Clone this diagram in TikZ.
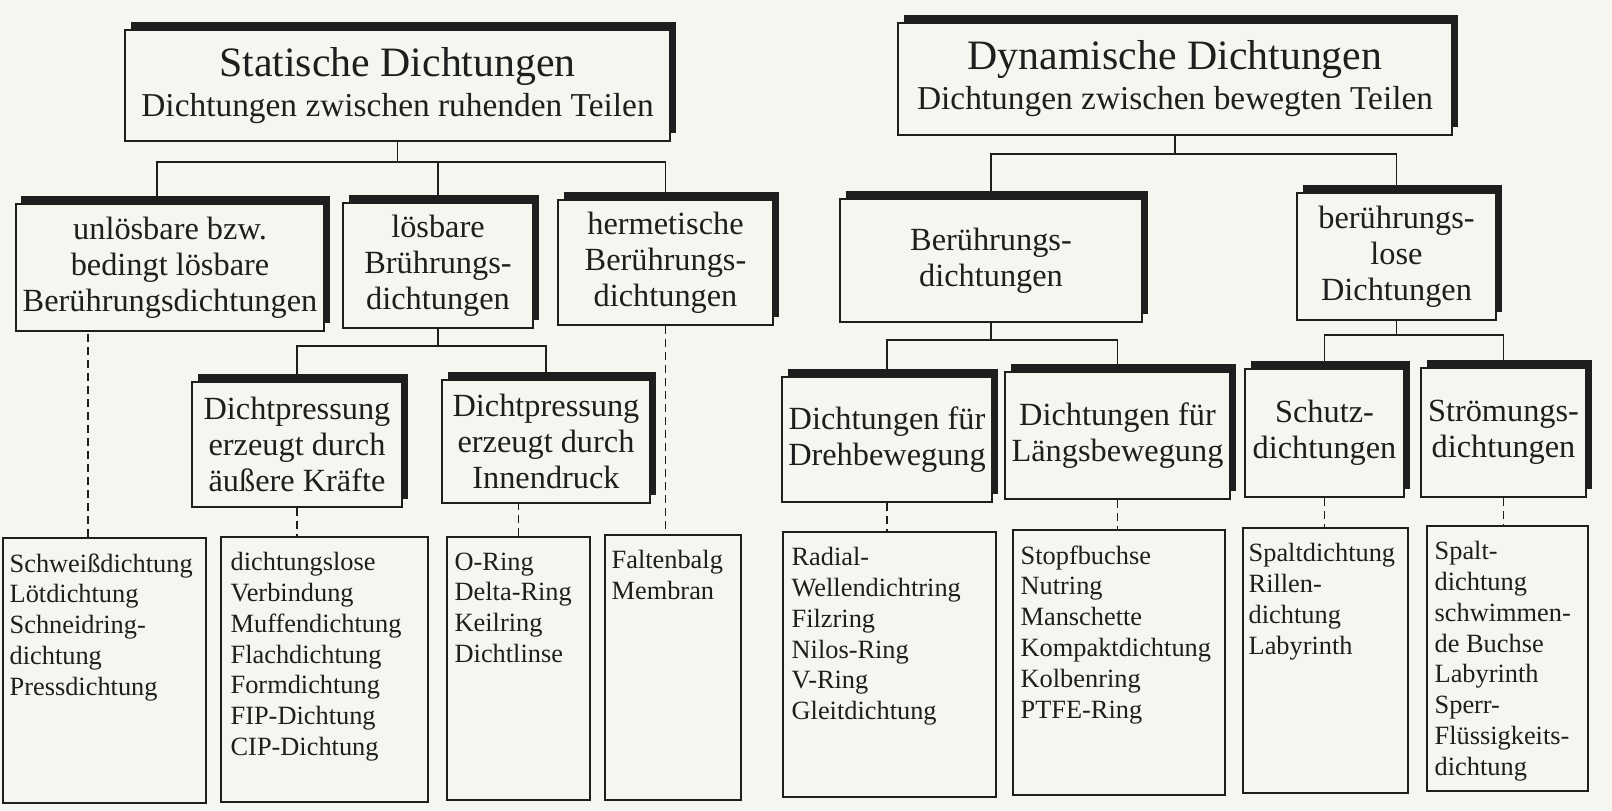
\documentclass[tikz,border=0pt]{standalone}
\usepackage{fontspec}
\setmainfont{Liberation Serif}
\usepackage{xcolor}
\usetikzlibrary{positioning, shadows}
\definecolor{paper}{RGB}{247,245,239}
\definecolor{ink}{RGB}{30,30,30}

\begin{document}
\begin{tikzpicture}[
    box/.style={draw=ink, line width=0.6pt, fill=paper, inner sep=0pt, align=center, text=ink,
        general shadow={fill=ink, shadow xshift=0.55mm, shadow yshift=0.85mm}},
    topbox/.style={box, font=\fontsize{9.5}{11.4}\selectfont},
    midbox/.style={box, font=\fontsize{9.2}{10.2}\selectfont},
    leaf/.style={draw=ink, line width=0.6pt, fill=paper, inner sep=0pt},
    leaftext/.style={inner sep=0pt, align=left, text=ink, font=\fontsize{7.5}{8.75}\selectfont},
    link/.style={draw=ink, line width=0.45pt},
    dashlink/.style={draw=ink, line width=0.45pt, dash pattern=on 0.8mm off 0.5mm}]
        \fill[paper] (0,0) rectangle (16.12,-8.10);
        \useasboundingbox (0,0) rectangle (16.12,-8.10);

        % top level
        \node[topbox, minimum width=5.45cm, minimum height=1.11cm] (1) at (3.975,-0.855)
            {{\fontsize{11.9}{11.4}\selectfont Statische Dichtungen}\\Dichtungen zwischen ruhenden Teilen};
        \node[topbox, minimum width=5.54cm, minimum height=1.12cm] (2) at (11.75,-0.79)
            {{\fontsize{11.9}{11.4}\selectfont Dynamische Dichtungen}\\Dichtungen zwischen bewegten Teilen};

        % second level
        \node[midbox, minimum width=3.08cm, minimum height=1.27cm] (11) at (1.70,-2.675)
            {unlösbare bzw.\\bedingt lösbare\\Berührungsdichtungen};
        \node[midbox, minimum width=1.90cm, minimum height=1.25cm] (12) at (4.38,-2.655)
            {lösbare\\Brührungs-\\dichtungen};
        \node[midbox, minimum width=2.15cm, minimum height=1.25cm] (13) at (6.655,-2.625)
            {hermetische\\Berührungs-\\dichtungen};
        \node[midbox, minimum width=3.02cm, minimum height=1.23cm] (21) at (9.91,-2.605)
            {Berührungs-\\dichtungen};
        \node[midbox, minimum width=1.99cm, minimum height=1.27cm] (22) at (13.965,-2.565)
            {berührungs-\\lose\\Dichtungen};

        % third level
        \node[midbox, minimum width=2.10cm, minimum height=1.25cm] (121) at (2.97,-4.445)
            {Dichtpressung\\erzeugt durch\\äußere Kräfte};
        \node[midbox, minimum width=2.08cm, minimum height=1.23cm] (122) at (5.46,-4.415)
            {Dichtpressung\\erzeugt durch\\Innendruck};
        \node[midbox, minimum width=2.10cm, minimum height=1.25cm] (211) at (8.87,-4.395)
            {Dichtungen für\\Drehbewegung};
        \node[midbox, minimum width=2.25cm, minimum height=1.27cm] (212) at (11.175,-4.355)
            {Dichtungen für\\Längsbewegung};
        \node[midbox, minimum width=1.59cm, minimum height=1.28cm] (221) at (13.245,-4.33)
            {Schutz-\\dichtungen};
        \node[midbox, minimum width=1.65cm, minimum height=1.29cm] (222) at (15.035,-4.325)
            {Strömungs-\\dichtungen};

        % lists
        \node[leaf, minimum width=2.03cm, minimum height=2.65cm] (11l) at (1.045,-6.705) {};
        \node[leaf, minimum width=2.07cm, minimum height=2.65cm] (121l) at (3.245,-6.695) {};
        \node[leaf, minimum width=1.43cm, minimum height=2.63cm] (122l) at (5.185,-6.685) {};
        \node[leaf, minimum width=1.36cm, minimum height=2.65cm] (13l) at (6.73,-6.675) {};
        \node[leaf, minimum width=2.13cm, minimum height=2.65cm] (211l) at (8.895,-6.645) {};
        \node[leaf, minimum width=2.12cm, minimum height=2.65cm] (212l) at (11.19,-6.625) {};
        \node[leaf, minimum width=1.65cm, minimum height=2.65cm] (221l) at (13.255,-6.605) {};
        \node[leaf, minimum width=1.61cm, minimum height=2.65cm] (222l) at (15.075,-6.585) {};

        \node[leaftext, below right=1.6mm and 0.7mm of 11l.north west] (11t)
            {Schweißdichtung\\Lötdichtung\\Schneidring-\\dichtung\\Pressdichtung};
        \node[leaftext, below right=1.6mm and 1.0mm of 121l.north west] (121t)
            {dichtungslose\\Verbindung\\Muffendichtung\\Flachdichtung\\Formdichtung\\FIP-Dichtung\\CIP-Dichtung};
        \node[leaftext, below right=1.6mm and 0.8mm of 122l.north west] (122t)
            {O-Ring\\Delta-Ring\\Keilring\\Dichtlinse};
        \node[leaftext, below right=1.6mm and 0.7mm of 13l.north west] (13t)
            {Faltenbalg\\Membran};
        \node[leaftext, below right=1.6mm and 0.9mm of 211l.north west] (211t)
            {Radial-\\Wellendichtring\\Filzring\\Nilos-Ring\\V-Ring\\Gleitdichtung};
        \node[leaftext, below right=1.6mm and 0.8mm of 212l.north west] (212t)
            {Stopfbuchse\\Nutring\\Manschette\\Kompaktdichtung\\Kolbenring\\PTFE-Ring};
        \node[leaftext, below right=1.6mm and 0.6mm of 221l.north west] (221t)
            {Spaltdichtung\\Rillen-\\dichtung\\Labyrinth};
        \node[leaftext, below right=1.6mm and 0.8mm of 222l.north west] (222t)
            {Spalt-\\dichtung\\schwimmen-\\de Buchse\\Labyrinth\\Sperr-\\Flüssigkeits-\\dichtung};

        % tree lines
        \draw[link] (1.south) -- ++(0,-0.20) -| ([xshift=-1.3mm]11.north);
        \draw[link] (1.south) -- ++(0,-0.20) -| (12.north);
        \draw[link] (1.south) -- ++(0,-0.20) -| (13.north);

        \draw[link] (2.south) -- ++(0,-0.18) -| (21.north);
        \draw[link] (2.south) -- ++(0,-0.18) -| (22.north);

        \draw[link] (12.south) -- ++(0,-0.17) -| (121.north);
        \draw[link] (12.south) -- ++(0,-0.17) -| (122.north);

        \draw[link] (21.south) -- ++(0,-0.17) -| (211.north);
        \draw[link] (21.south) -- ++(0,-0.17) -| (212.north);

        \draw[link] (22.south) -- ++(0,-0.14) -| (221.north);
        \draw[link] (22.south) -- ++(0,-0.14) -| (222.north);

        % dashed lines to the lists
        \draw[dashlink] ([xshift=-1.65mm]11l.north) -- ([xshift=-1.65mm]11l.north |- 11.south);
        \draw[dashlink] (121.south) -- (121.south |- 121l.north);
        \draw[dashlink] (122l.north) -- (122l.north |- 122.south);
        \draw[dashlink] (13.south) -- (13.south |- 13l.north);
        \draw[dashlink] (211.south) -- (211.south |- 211l.north);
        \draw[dashlink] (212.south) -- (212.south |- 212l.north);
        \draw[dashlink] (221.south) -- (221.south |- 221l.north);
        \draw[dashlink] (222.south) -- (222.south |- 222l.north);
    \end{tikzpicture}
\end{document}
